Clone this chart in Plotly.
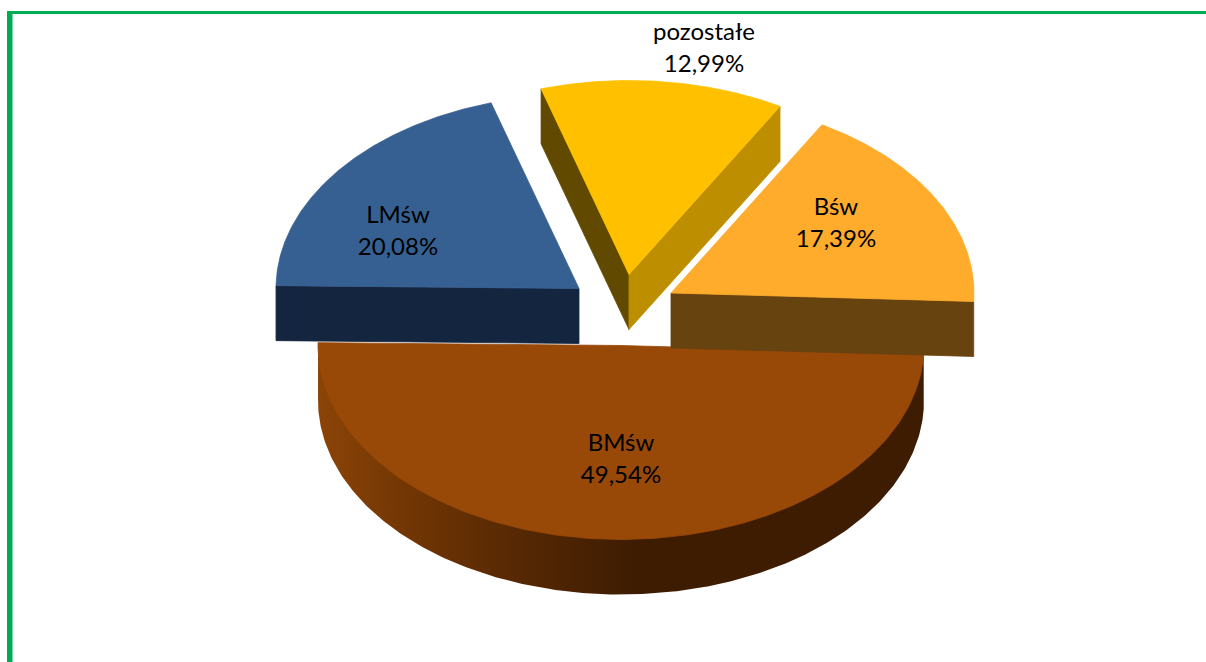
import numpy as np
import plotly.graph_objects as go

# ---- data (clockwise from the first slice) ----
categories = ["BMśw", "LMśw", "pozostałe", "Bśw"]
shares = [49.54, 20.08, 12.99, 17.39]
share_labels = ["49,54%", "20,08%", "12,99%", "17,39%"]

# ---- styling / layout ----
top_colors = {"BMśw": "#984807", "LMśw": "#376092", "pozostałe": "#FFC000", "Bśw": "#FFAB2B"}
wall_colors = {"LMśw": "#14263F", "Bśw": "#674310",
               "pozostałe_left": "#614A00", "pozostałe_right": "#BD8F00"}
apex = {"BMśw": (621, 345.5), "LMśw": (579, 288.5), "pozostałe": (629, 274.5), "Bśw": (671, 293)}
label_pos = {"BMśw": (621, 461), "LMśw": (398, 233), "pozostałe": (704, 50), "Bśw": (836, 225)}
RX, RY, DEPTH = 303, 194, 55
FIRST_ANGLE = 92.5
GREEN = "#00AC50"
GRAD_START, GRAD_STOP = 318, 924
grad_scale = [[0.0, "rgb(139,68,7)"], [0.17, "rgb(110,52,3)"], [0.33, "rgb(86,40,3)"],
              [0.53, "rgb(61,28,2)"], [1.0, "rgb(61,28,2)"]]


def ell(c, deg, dz=0.0):
    t = np.radians(deg)
    return c[0] + RX * np.sin(t), c[1] - RY * np.cos(t) + dz


def poly(xs, ys, color, name, line=0.0):
    return go.Scatter(x=list(xs), y=list(ys), mode="lines", fill="toself", fillcolor=color,
                      line=dict(color=color, width=line), name=name, hoverinfo="skip",
                      showlegend=False)


# slice angular extents from the values
total = sum(shares)
edges = FIRST_ANGLE + np.concatenate([[0], np.cumsum(shares)]) / total * 360
span = {c: (edges[i], edges[i + 1]) for i, c in enumerate(categories)}


def sector(c_name):
    a0, a1 = span[c_name]
    c = apex[c_name]
    a = np.linspace(a0, a1, 200)
    x, y = ell(c, a)
    return poly(np.r_[c[0], x, c[0]], np.r_[c[1], y, c[1]], top_colors[c_name], c_name, 0.8)


def radial_wall(c_name, deg, color):
    c = apex[c_name]
    px, py = ell(c, deg)
    return poly([c[0], px, px, c[0], c[0]],
                [c[1], py, py + DEPTH, c[1] + DEPTH, c[1]], color, c_name + " wall", 0.8)


fig = go.Figure()

# curved wall of the large slice, shaded left to right
a0, a1 = span["BMśw"]
c = apex["BMśw"]
arc = np.linspace(a0, a1, 240)
wx, wy = ell(c, arc)
fig.add_trace(go.Scatter(
    x=np.r_[wx, wx[::-1], wx[0]].tolist(),
    y=np.r_[wy - 3, wy[::-1] + DEPTH, wy[0] - 3].tolist(),
    mode="lines", fill="toself", line=dict(width=0), name="BMśw wall",
    fillgradient=dict(type="horizontal", colorscale=grad_scale, start=GRAD_START, stop=GRAD_STOP),
    hoverinfo="skip", showlegend=False,
))
fig.add_trace(sector("BMśw"))

# left slice
fig.add_trace(radial_wall("LMśw", span["LMśw"][0], wall_colors["LMśw"]))
fig.add_trace(sector("LMśw"))

# right slice
fig.add_trace(radial_wall("Bśw", span["Bśw"][1], wall_colors["Bśw"]))
fig.add_trace(sector("Bśw"))

# pulled-out top slice
fig.add_trace(radial_wall("pozostałe", span["pozostałe"][0], wall_colors["pozostałe_left"]))
fig.add_trace(radial_wall("pozostałe", span["pozostałe"][1], wall_colors["pozostałe_right"]))
fig.add_trace(sector("pozostałe"))

# labels
fig.add_trace(go.Scatter(
    x=[label_pos[c][0] for c in categories],
    y=[label_pos[c][1] for c in categories],
    mode="text",
    text=[f"{c}<br>{v}" for c, v in zip(categories, share_labels)],
    textposition="middle center",
    textfont=dict(family="Lato, Carlito, sans-serif", size=24, color="#000000"),
    hoverinfo="skip", showlegend=False,
))

fig.update_layout(
    width=1206, height=662, autosize=False,
    margin=dict(l=0, r=0, t=0, b=0),
    paper_bgcolor="white", plot_bgcolor="white", showlegend=False,
    xaxis=dict(range=[0, 1206], visible=False, fixedrange=True),
    yaxis=dict(range=[662, 0], visible=False, fixedrange=True),
    shapes=[
        dict(type="rect", xref="x", yref="y", x0=7, x1=12.5, y0=11, y1=662,
             fillcolor=GREEN, line_width=0, layer="above"),
        dict(type="rect", xref="x", yref="y", x0=7, x1=1206, y0=11, y1=14,
             fillcolor=GREEN, line_width=0, layer="above"),
    ],
)

fig.write_html("out.html", config={"displayModeBar": False, "responsive": False},
               post_script="document.body.style.margin='0';document.body.style.overflow='hidden';")
